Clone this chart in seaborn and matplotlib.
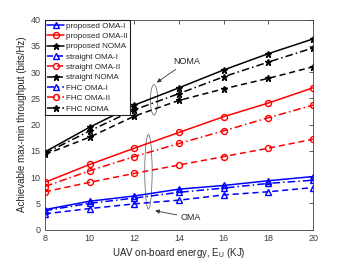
import numpy as np
import pandas as pd
import matplotlib
matplotlib.use("Agg")
import matplotlib.pyplot as plt
from matplotlib.patches import Ellipse
import seaborn as sns

energy = [8, 10, 12, 14, 16, 18, 20]

proposed_oma1 = [3.8, 5.4, 6.4, 7.7, 8.4, 9.3, 10.1]
proposed_oma2 = [9.0, 12.4, 15.5, 18.5, 21.5, 24.1, 27.0]
proposed_noma = [14.8, 19.5, 23.7, 27.0, 30.4, 33.5, 36.3]
straight_oma1 = [3.0, 4.0, 4.9, 5.6, 6.6, 7.2, 8.0]
straight_oma2 = [7.2, 9.0, 10.7, 12.3, 13.9, 15.5, 17.2]
straight_noma = [14.3, 17.6, 21.6, 24.6, 26.8, 28.8, 31.0]
fhc_oma1 = [3.6, 5.0, 6.0, 7.1, 7.9, 8.8, 9.4]
fhc_oma2 = [8.2, 11.2, 13.9, 16.4, 18.8, 21.3, 23.7]
fhc_noma = [14.5, 18.8, 22.8, 25.9, 29.1, 31.9, 34.6]

labels = ["proposed OMA-I", "proposed OMA-II", "proposed NOMA",
          "straight OMA-I", "straight OMA-II", "straight NOMA",
          "FHC OMA-I", "FHC OMA-II", "FHC NOMA"]
series = [proposed_oma1, proposed_oma2, proposed_noma,
          straight_oma1, straight_oma2, straight_noma,
          fhc_oma1, fhc_oma2, fhc_noma]

colors = ["#0000ff", "#ff0000", "#000000"] * 3
styles = ["-"] * 3 + [(0, (4, 2.5))] * 3 + [(0, (5, 2, 1, 2))] * 3
markers = ["^", "o", "*"] * 3

sns.set_style("white")
plt.rcParams['font.family'] = ['Liberation Sans', 'DejaVu Sans']

fig = plt.figure(figsize=(3.46, 2.60), dpi=100)
ax = fig.add_axes([0.130, 0.117, 0.775, 0.808])

for lab, vals, c, ls, mk in zip(labels, series, colors, styles, markers):
    df = pd.DataFrame({"x": energy, "y": vals})
    filled = mk == "*"
    sns.lineplot(data=df, x="x", y="y", ax=ax, color=c, linestyle=ls,
                 marker=mk, markersize=5.0 if filled else 4.3,
                 markerfacecolor=c if filled else "none",
                 markeredgecolor=c, markeredgewidth=1.0,
                 linewidth=1.1, label=lab)

ax.set_xlim(8, 20)
ax.set_ylim(0, 40)
ax.set_xticks(energy)
ax.set_yticks(np.arange(0, 41, 5))
ax.tick_params(direction="in", length=3, width=0.6, labelsize=6.5,
               top=True, right=True, colors="#404040", pad=3)
for s in ax.spines.values():
    s.set_visible(True)
    s.set_color("#404040")
    s.set_linewidth(0.6)

ax.set_xlabel("UAV on-board energy, E$_{\\mathregular{U}}$ (KJ)", fontsize=7, labelpad=2)
ax.set_ylabel("Achievable max-min throughput (bits/Hz)", fontsize=7, labelpad=3)

leg = ax.legend(loc="upper left", fontsize=5.9, frameon=True, fancybox=False,
                borderpad=0.3, labelspacing=0.32, handlelength=2.0,
                handletextpad=0.3, borderaxespad=0.0, edgecolor="#222222",
                framealpha=1.0)
leg.get_frame().set_linewidth(0.8)

ax.add_patch(Ellipse((12.88, 24.7), 0.32, 5.8, fill=False,
                     edgecolor="#555555", linewidth=0.5))
ax.add_patch(Ellipse((12.63, 11.0), 0.33, 14.2, fill=False,
                     edgecolor="#555555", linewidth=0.5))
ax.annotate("NOMA", xy=(13.0, 28.0), xytext=(13.75, 31.5), fontsize=6.5,
            arrowprops=dict(arrowstyle="-|>", color="#333333", lw=0.6,
                            shrinkA=0, shrinkB=0, mutation_scale=6))
ax.annotate("OMA", xy=(12.93, 3.6), xytext=(14.05, 1.8), fontsize=6.5,
            arrowprops=dict(arrowstyle="-|>", color="#333333", lw=0.6,
                            shrinkA=0, shrinkB=0, mutation_scale=6))

fig.savefig("out.png", dpi=100)
